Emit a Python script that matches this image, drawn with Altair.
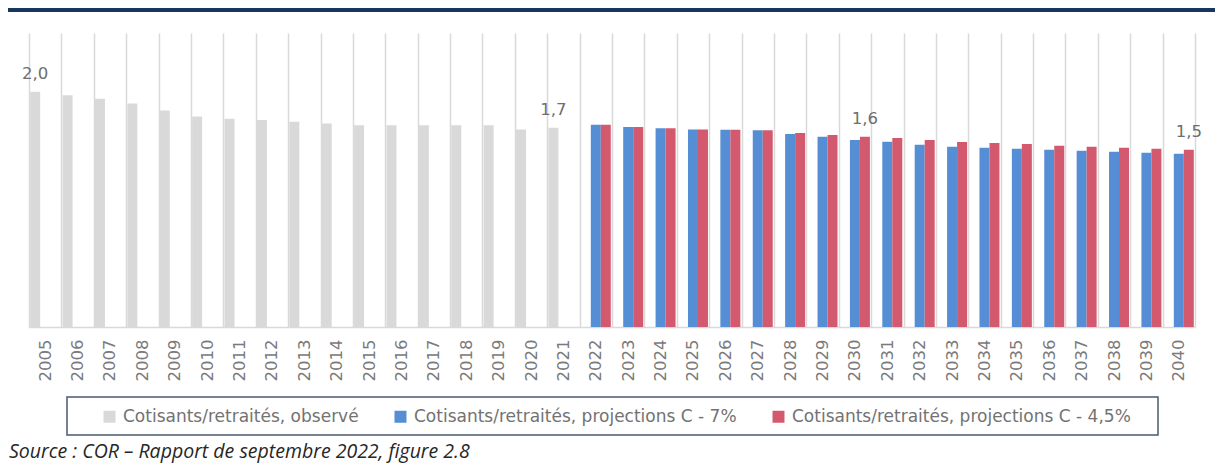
import altair as alt
import pandas as pd

S_OBS = "Cotisants/retraités, observé"
S_7 = "Cotisants/retraités, projections C - 7%"
S_45 = "Cotisants/retraités, projections C - 4,5%"
series_order = [S_OBS, S_7, S_45]
series_colors = ["#D9D9D9", "#558ED5", "#D35A6E"]

years_obs = list(range(2005, 2022))
ratio_obs = [2.00, 1.97, 1.94, 1.90, 1.84, 1.79, 1.77, 1.76, 1.745, 1.73,
             1.715, 1.715, 1.715, 1.715, 1.715, 1.68, 1.695]

years_proj = list(range(2022, 2041))
ratio_7 = [1.72, 1.70, 1.69, 1.68, 1.678, 1.672, 1.641, 1.618, 1.59, 1.576,
           1.55, 1.533, 1.525, 1.516, 1.508, 1.499, 1.491, 1.482, 1.474]
ratio_45 = [1.72, 1.70, 1.69, 1.68, 1.678, 1.672, 1.65, 1.633, 1.618, 1.607,
            1.59, 1.573, 1.565, 1.556, 1.542, 1.533, 1.525, 1.516, 1.508]

label_years = [2005, 2021, 2030, 2040]
label_series = [S_OBS, S_OBS, S_45, S_45]
label_texts = ["2,0", "1,7", "1,6", "1,5"]

source_text = "Source : COR – Rapport de septembre 2022, figure 2.8"

rows = []
for y, v in zip(years_obs, ratio_obs):
    rows.append({"year": y, "series": S_OBS, "value": v})
for y, a, b in zip(years_proj, ratio_7, ratio_45):
    rows.append({"year": y, "series": S_7, "value": a})
    rows.append({"year": y, "series": S_45, "value": b})
df = pd.DataFrame(rows)
lab = {(y, s): t for y, s, t in zip(label_years, label_series, label_texts)}
df["label"] = [lab.get((y, s), "") for y, s in zip(df["year"], df["series"])]

x_enc = alt.X(
    "year:O",
    scale=alt.Scale(paddingInner=0, paddingOuter=0),
    axis=alt.Axis(
        title=None, labelAngle=-90, tickBand="extent", grid=True,
        gridColor="#D9D9D9", gridWidth=1.5, ticks=False,
        domainColor="#D9D9D9", domainWidth=1.5, labelPadding=12,
        labelFontSize=16.5, labelColor="#7a7a7a", labelFont="DejaVu Sans",
    ),
)
xo_enc = alt.XOffset(
    "series:N",
    scale=alt.Scale(domain=series_order, paddingOuter=0.12, paddingInner=0),
)
y_enc = alt.Y("value:Q", scale=alt.Scale(domain=[0, 2.5]), axis=None)

bars = alt.Chart(df).mark_bar().encode(
    x=x_enc,
    xOffset=xo_enc,
    y=y_enc,
    color=alt.Color(
        "series:N",
        scale=alt.Scale(domain=series_order, range=series_colors),
        legend=alt.Legend(
            orient="none", legendX=72, legendY=375, direction="horizontal",
            title=None, symbolType="square", symbolSize=144,
            symbolStrokeWidth=0, labelFontSize=17, labelFont="DejaVu Sans",
            labelColor="#727272", columnPadding=33, labelOffset=5,
            labelLimit=600,
        ),
    ),
)

labels = alt.Chart(df).transform_filter(alt.datum.label != "").mark_text(
    dy=-13, baseline="alphabetic", fontSize=16.5, color="#6e6e6e",
    font="DejaVu Sans",
).encode(x=x_enc, xOffset=xo_enc, y=y_enc, text="label:N")

one = pd.DataFrame({"k": [0]})

frame = alt.Chart(one).mark_rect(
    filled=False, stroke="#4a5a70", strokeWidth=1.5
).encode(
    x=alt.value(38), x2=alt.value(1129), y=alt.value(364), y2=alt.value(402)
)

banner = alt.Chart(one).mark_rect(color="#17375E").encode(
    x=alt.value(-21), x2=alt.value(1186), y=alt.value(-25), y2=alt.value(-21)
)

source = alt.Chart(one).mark_text(
    align="left", baseline="alphabetic", fontStyle="italic",
    font="Open Sans", fontSize=19.5, color="#262626",
).encode(x=alt.value(-20), y=alt.value(425), text=alt.value(source_text))

chart = alt.layer(banner, bars, labels, frame, source).properties(
    width=1166, height=294,
    autosize=alt.AutoSizeParams(type="none"),
    padding={"left": 21, "top": 25, "right": 20, "bottom": 140},
).configure_view(stroke=None)

chart.save("out.html", embed_options={"renderer": "svg", "actions": False})
